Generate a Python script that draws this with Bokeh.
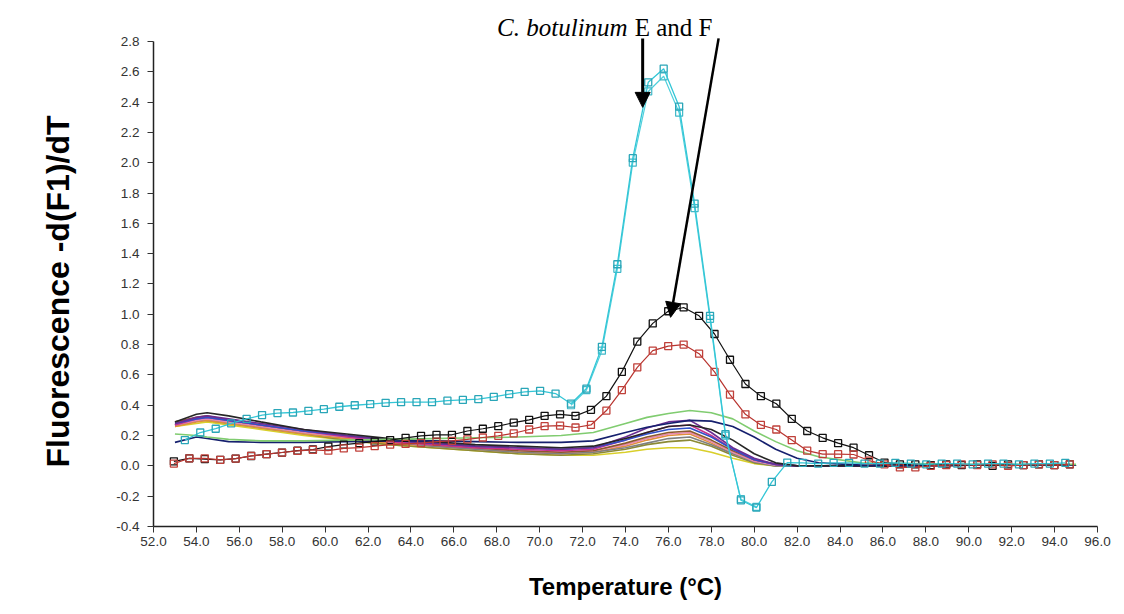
import math
from bokeh.plotting import figure
from bokeh.models import Range1d, FixedTicker, NumeralTickFormatter, Label, Arrow, NormalHead, Title
from bokeh.embed import file_html
from bokeh.resources import INLINE

# ---------------- data ----------------
X_TICKS = [52.0, 54.0, 56.0, 58.0, 60.0, 62.0, 64.0, 66.0, 68.0, 70.0, 72.0, 74.0,
           76.0, 78.0, 80.0, 82.0, 84.0, 86.0, 88.0, 90.0, 92.0, 94.0, 96.0]
Y_TICKS = [-0.4, -0.2, 0.0, 0.2, 0.4, 0.6, 0.8, 1.0, 1.2, 1.4, 1.6, 1.8, 2.0, 2.2, 2.4, 2.6, 2.8]

# temperatures of the plain (no marker) curves
TEMP_LINES = [53.0, 54.0, 54.5, 55.5, 57.0, 59.0, 61.0, 63.0, 65.0, 67.0, 69.0, 71.0, 72.5,
              74.0, 75.0, 76.0, 77.0, 78.0, 79.0, 80.0, 81.0, 82.0, 83.0, 85.0, 90.0, 95.0]
green = [0.21, 0.2, 0.19, 0.175, 0.165, 0.165, 0.17, 0.175, 0.18, 0.185, 0.19, 0.2, 0.22,
         0.28, 0.32, 0.345, 0.365, 0.35, 0.31, 0.23, 0.16, 0.1, 0.06, 0.02, 0.01, 0.01]
navy = [0.155, 0.19, 0.18, 0.16, 0.155, 0.155, 0.16, 0.165, 0.165, 0.16, 0.155, 0.155, 0.165,
        0.22, 0.255, 0.28, 0.3, 0.295, 0.26, 0.19, 0.11, 0.05, 0.02, 0.005, 0.005, 0.005]
black_line = [0.29, 0.34, 0.35, 0.33, 0.29, 0.24, 0.21, 0.18, 0.16, 0.14, 0.13, 0.12, 0.13,
              0.18, 0.22, 0.26, 0.27, 0.24, 0.17, 0.08, 0.02, 0.0, 0.0, 0.0, 0.005, 0.005]
purple = [0.28, 0.32, 0.33, 0.31, 0.28, 0.24, 0.2, 0.17, 0.15, 0.13, 0.12, 0.11, 0.12,
          0.19, 0.25, 0.29, 0.3, 0.22, 0.12, 0.05, 0.01, 0.0, 0.0, 0.0, 0.005, 0.005]
magenta = [0.27, 0.31, 0.32, 0.3, 0.27, 0.23, 0.19, 0.16, 0.14, 0.12, 0.11, 0.1, 0.11,
           0.17, 0.22, 0.26, 0.27, 0.2, 0.11, 0.04, 0.01, 0.0, 0.0, 0.0, 0.005, 0.005]
brown = [0.29, 0.32, 0.33, 0.3, 0.27, 0.23, 0.2, 0.17, 0.14, 0.12, 0.1, 0.09, 0.1,
         0.15, 0.19, 0.22, 0.23, 0.17, 0.1, 0.04, 0.01, 0.0, 0.0, 0.0, 0.005, 0.005]
pink = [0.27, 0.3, 0.31, 0.29, 0.26, 0.22, 0.19, 0.16, 0.14, 0.12, 0.1, 0.09, 0.1,
        0.14, 0.18, 0.21, 0.22, 0.16, 0.09, 0.03, 0.005, 0.0, 0.0, 0.0, 0.005, 0.005]
blue = [0.28, 0.31, 0.32, 0.3, 0.27, 0.23, 0.2, 0.17, 0.15, 0.13, 0.12, 0.11, 0.12,
        0.17, 0.21, 0.24, 0.25, 0.19, 0.11, 0.04, 0.01, 0.0, 0.0, 0.0, 0.005, 0.005]
orange = [0.26, 0.29, 0.3, 0.28, 0.25, 0.21, 0.18, 0.15, 0.13, 0.11, 0.09, 0.08, 0.09,
          0.13, 0.17, 0.2, 0.21, 0.15, 0.08, 0.03, 0.005, 0.0, 0.0, 0.0, 0.005, 0.005]
olive = [0.27, 0.3, 0.3, 0.28, 0.25, 0.21, 0.17, 0.14, 0.12, 0.1, 0.08, 0.07, 0.08,
         0.11, 0.14, 0.16, 0.17, 0.13, 0.07, 0.02, 0.0, 0.0, 0.0, 0.0, 0.005, 0.005]
yellow = [0.26, 0.28, 0.29, 0.27, 0.24, 0.2, 0.17, 0.14, 0.12, 0.1, 0.08, 0.07, 0.07,
          0.09, 0.11, 0.12, 0.12, 0.09, 0.05, 0.015, 0.0, 0.0, 0.0, 0.0, 0.005, 0.005]
gray = [0.27, 0.3, 0.31, 0.29, 0.26, 0.22, 0.19, 0.16, 0.13, 0.11, 0.09, 0.08, 0.09,
        0.12, 0.15, 0.18, 0.19, 0.14, 0.08, 0.025, 0.0, 0.0, 0.0, 0.0, 0.005, 0.005]

# C. botulinum E (cyan, squares)
TEMP_CYAN = [53.46, 54.18, 54.90, 55.62, 56.34, 57.06, 57.78, 58.50, 59.22, 59.94,
             60.66, 61.38, 62.10, 62.82, 63.54, 64.26, 64.98, 65.70, 66.42, 67.14,
             67.86, 68.58, 69.30, 70.02, 70.74, 71.46, 72.18, 72.90, 73.62, 74.34,
             75.06, 75.78, 76.50, 77.22, 77.94, 78.66, 79.38, 80.10, 80.82, 81.54,
             82.26, 82.98, 83.70, 84.42, 85.14, 85.86, 86.58, 87.30, 88.02, 88.74,
             89.46, 90.18, 90.90, 91.62, 92.34, 93.06, 93.78, 94.50]
cyan_a = [0.17, 0.22, 0.245, 0.28, 0.31, 0.335, 0.348, 0.352, 0.363, 0.374,
          0.39, 0.40, 0.407, 0.416, 0.42, 0.42, 0.42, 0.43, 0.435, 0.44,
          0.455, 0.473, 0.488, 0.495, 0.477, 0.41, 0.51, 0.785, 1.33, 2.03,
          2.53, 2.62, 2.37, 1.73, 0.99, 0.21, -0.227, -0.275, -0.106, 0.022,
          0.02, 0.015, 0.02, 0.02, 0.015, 0.015, 0.02, 0.015, 0.01, 0.015,
          0.015, 0.01, 0.015, 0.015, 0.01, 0.015, 0.015, 0.02]
TEMP_CYAN_B = [71.46, 72.18, 72.90, 73.62, 74.34, 75.06, 75.78, 76.50, 77.22, 77.94, 78.66, 79.38, 80.10]
cyan_b = [0.40, 0.50, 0.76, 1.30, 2.00, 2.47, 2.57, 2.33, 1.70, 0.97, 0.20, -0.22, -0.27]

# C. botulinum F (black and red, squares)
TEMP_BR = [52.95, 53.67, 54.39, 55.11, 55.83, 56.55, 57.27, 57.99, 58.71, 59.43,
           60.15, 60.87, 61.59, 62.31, 63.03, 63.75, 64.47, 65.19, 65.91, 66.63,
           67.35, 68.07, 68.79, 69.51, 70.23, 70.95, 71.67, 72.39, 73.11, 73.83,
           74.55, 75.27, 75.99, 76.71, 77.43, 78.15, 78.87, 79.59, 80.31, 81.03,
           81.75, 82.47, 83.19, 83.91, 84.63, 85.35, 86.07, 86.79, 87.51, 88.23,
           88.95, 89.67, 90.39, 91.11, 91.83, 92.55, 93.27, 93.99, 94.71]
black_sq = [0.03, 0.05, 0.045, 0.04, 0.048, 0.065, 0.077, 0.088, 0.10, 0.108,
            0.127, 0.14, 0.15, 0.16, 0.17, 0.185, 0.198, 0.205, 0.205, 0.23,
            0.245, 0.262, 0.285, 0.303, 0.33, 0.34, 0.33, 0.37, 0.46, 0.62,
            0.82, 0.94, 1.02, 1.045, 0.99, 0.87, 0.70, 0.54, 0.46, 0.41,
            0.31, 0.23, 0.185, 0.15, 0.12, 0.07, 0.022, 0.01, 0.01, 0.005,
            0.01, 0.005, 0.01, 0.0, 0.01, 0.005, 0.01, 0.005, 0.01]
red_sq = [0.015, 0.05, 0.05, 0.04, 0.048, 0.066, 0.077, 0.088, 0.099, 0.105,
          0.10, 0.115, 0.12, 0.13, 0.14, 0.145, 0.15, 0.16, 0.165, 0.175,
          0.187, 0.198, 0.215, 0.24, 0.262, 0.265, 0.253, 0.27, 0.365, 0.50,
          0.65, 0.76, 0.79, 0.80, 0.74, 0.62, 0.47, 0.34, 0.27, 0.24,
          0.17, 0.10, 0.077, 0.077, 0.075, 0.035, 0.01, -0.01, -0.01, 0.0,
          0.005, 0.01, 0.005, 0.01, 0.0, 0.005, 0.01, 0.005, 0.01]

ANNOTATION_ITALIC = "C. botulinum"
ANNOTATION_REST = "E and F"
X_TITLE = "Temperature (\u00b0C)"
Y_TITLE = "Fluorescence -d(F1)/dT"

# ---------------- figure ----------------
p = figure(width=1124, height=614, output_backend="svg", toolbar_location=None,
           x_range=Range1d(52, 96), y_range=Range1d(-0.4, 3.07),
           min_border_left=153, min_border_right=27, min_border_top=0, min_border_bottom=88)
p.outline_line_color = None
p.xgrid.visible = False
p.ygrid.visible = False
p.background_fill_color = "white"
p.border_fill_color = "white"

for ax in (p.xaxis[0], p.yaxis[0]):
    ax.axis_line_color = "#222222"
    ax.axis_line_width = 1.5
    ax.major_tick_line_color = "#333333"
    ax.minor_tick_line_color = None
    ax.major_tick_in = 0
    ax.major_tick_out = 6
    ax.major_label_text_font = "Liberation Sans"
    ax.major_label_text_font_size = "13.5px"
    ax.major_label_text_color = "#333333"
    ax.formatter = NumeralTickFormatter(format="0.0")
    ax.axis_label_text_font = "Liberation Sans"
    ax.axis_label_text_font_style = "bold"
    ax.axis_label_text_color = "black"

p.xaxis.ticker = FixedTicker(ticks=X_TICKS)
p.yaxis.ticker = FixedTicker(ticks=Y_TICKS)
p.yaxis.bounds = (Y_TICKS[0], Y_TICKS[-1])
p.xaxis.bounds = (X_TICKS[0], X_TICKS[-1])
p.yaxis.major_label_standoff = 8
p.xaxis.major_label_standoff = 4

p.xaxis.axis_label = X_TITLE
p.xaxis.axis_label_text_font_size = "24px"
p.xaxis.axis_label_standoff = 24

# y title as a left-side title so it can be shifted along the axis
p.add_layout(Title(text=Y_TITLE, align="left", offset=59, standoff=72, vertical_align="top",
                   text_font="Liberation Sans", text_font_style="bold",
                   text_font_size="32px", text_color="black"), "left")

line_series = [
    (yellow, "#d9cf2a"), (olive, "#8c8a35"), (orange, "#e0903a"), (gray, "#808080"),
    (pink, "#e887b0"), (brown, "#8b5a2b"), (magenta, "#c8308c"), (blue, "#3050c8"),
    (purple, "#6a2c91"), (black_line, "#262626"), (navy, "#16206e"), (green, "#80cc70"),
]
for vals, col in line_series:
    p.line(TEMP_LINES, vals, line_color=col, line_width=1.6)

# black series
p.line(TEMP_BR, black_sq, line_color="#111111", line_width=1.2)
p.scatter(TEMP_BR, black_sq, marker="square", size=7, line_color="#111111",
          line_width=1.3, fill_alpha=0)
# red series
p.line(TEMP_BR, red_sq, line_color="#b8342f", line_width=1.2)
p.scatter(TEMP_BR, red_sq, marker="square", size=7, line_color="#c0403a",
          line_width=1.3, fill_alpha=0)
# cyan series
p.line(TEMP_CYAN_B, cyan_b, line_color="#4fd0dc", line_width=1.2)
p.scatter(TEMP_CYAN_B, cyan_b, marker="square", size=7, line_color="#3fb8c8",
          line_width=1.2, fill_alpha=0)
p.line(TEMP_CYAN, cyan_a, line_color="#33c6d6", line_width=1.3)
p.scatter(TEMP_CYAN, cyan_a, marker="square", size=7, line_color="#2aa6b8",
          line_width=1.3, fill_alpha=0)

# annotation text and arrows
p.add_layout(Label(x=74.24, y=2.89, text=ANNOTATION_ITALIC, text_align="right",
                   text_baseline="alphabetic", x_offset=-3,
                   text_font="Liberation Serif", text_font_style="italic",
                   text_font_size="25px", text_color="black"))
p.add_layout(Label(x=74.24, y=2.89, text=ANNOTATION_REST, text_align="left",
                   text_baseline="alphabetic", x_offset=4,
                   text_font="Liberation Serif", text_font_size="25px", text_color="black"))
p.add_layout(Arrow(x_start=74.8, y_start=2.82, x_end=74.8, y_end=2.365,
                   line_width=3, line_color="black",
                   end=NormalHead(size=15, fill_color="black", line_color="black")))
p.add_layout(Arrow(x_start=78.34, y_start=2.82, x_end=76.1, y_end=0.98,
                   line_width=2.5, line_color="black",
                   end=NormalHead(size=15, fill_color="black", line_color="black")))

open("out.html", "w").write(file_html(p, INLINE))
